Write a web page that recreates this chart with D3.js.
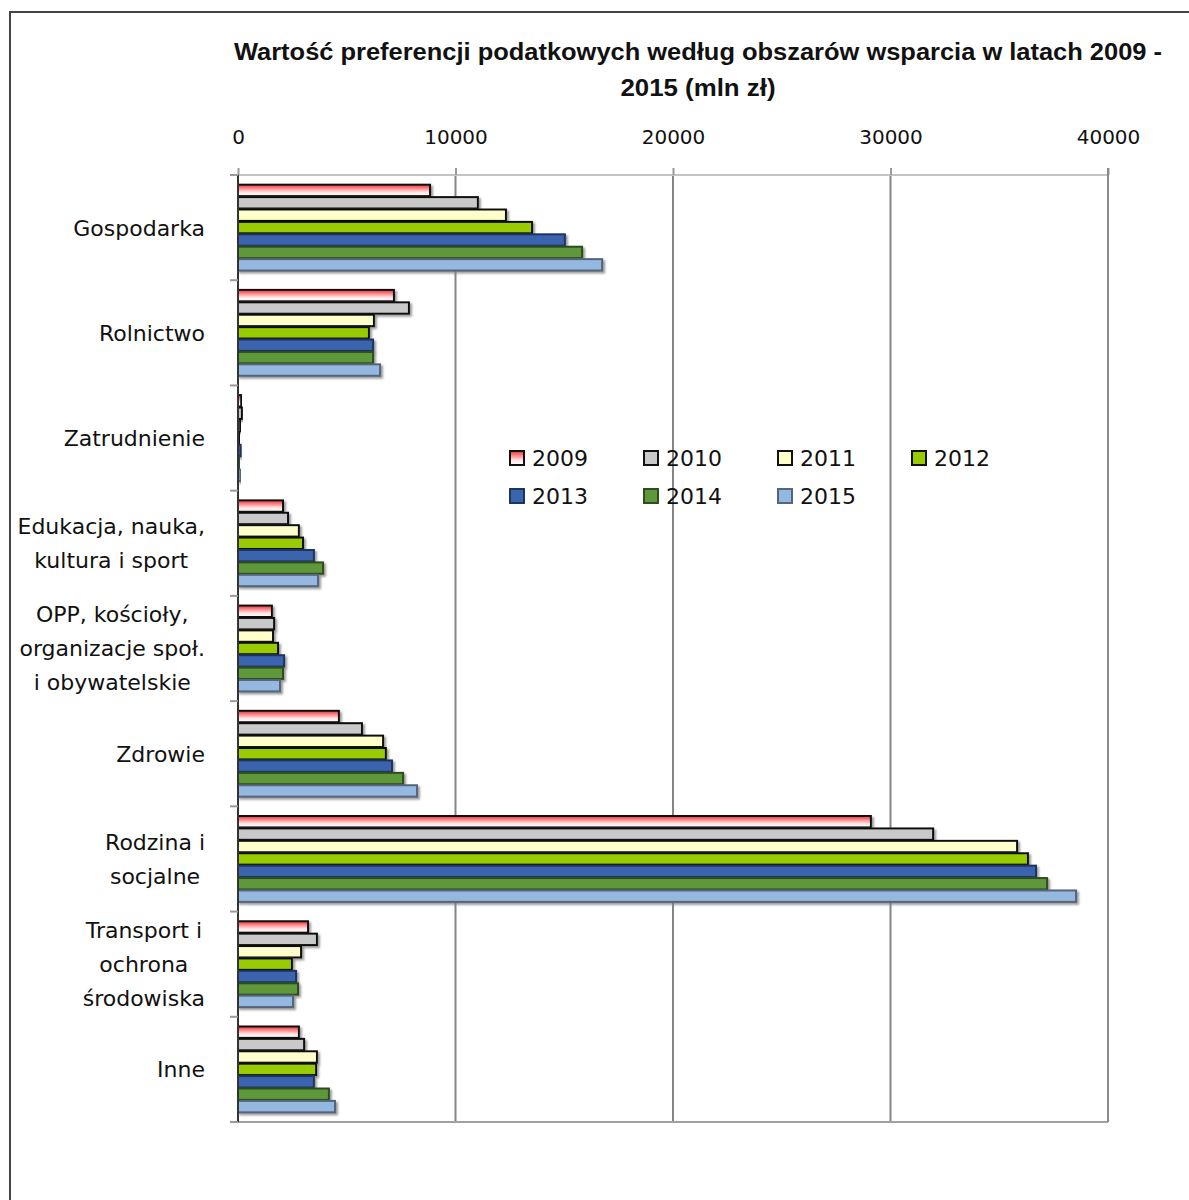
<!DOCTYPE html>
<html>
<head>
<meta charset="utf-8">
<script src="https://cdn.jsdelivr.net/npm/d3@7"></script>
<style>
  html, body { margin: 0; padding: 0; background: #fff; }
  svg { display: block; }
</style>
</head>
<body>
<svg id="chart" width="1189" height="1200"></svg>
<script>
// Obszary wsparcia (kategorie), od góry do dołu
const categories = [
  ["Gospodarka"],
  ["Rolnictwo"],
  ["Zatrudnienie"],
  ["Edukacja, nauka,", "kultura i sport"],
  ["OPP, kościoły,", "organizacje społ.", "i obywatelskie"],
  ["Zdrowie"],
  ["Rodzina i", "socjalne"],
  ["Transport i", "ochrona", "środowiska"],
  ["Inne"]
];
const categoryKeys = categories.map(c => c.join(" "));

const years = ["2009", "2010", "2011", "2012", "2013", "2014", "2015"];

// Wartość preferencji podatkowych (mln zł), w kolejności kategorii
const v2009 = [8830, 7170, 150, 2070, 1560, 4640, 29100, 3220, 2800];
const v2010 = [11030, 7860, 180, 2300, 1660, 5700, 31960, 3630, 3040];
const v2011 = [12320, 6250, 100, 2800, 1610, 6670, 35820, 2900, 3630];
const v2012 = [13520, 6020, 60, 2990, 1840, 6800, 36320, 2480, 3590];
const v2013 = [15030, 6210, 120, 3490, 2120, 7080, 36690, 2670, 3490];
const v2014 = [15820, 6210, 70, 3910, 2070, 7590, 37200, 2760, 4180];
const v2015 = [16740, 6530, 110, 3680, 1930, 8230, 38530, 2530, 4460];
const seriesValues = [v2009, v2010, v2011, v2012, v2013, v2014, v2015];

const xTicks = [0, 10000, 20000, 30000, 40000];

const titleLines = [
  "Wartość preferencji podatkowych według obszarów wsparcia w latach 2009 -",
  "2015 (mln zł)"
];

// Wypełnienia i obramowania serii
const fills = ["url(#grad2009)", "#c9c9c9", "#ffffcc", "#99cc00", "#3a64ae", "#5f973a", "#95b8e1"];
const strokes = ["#111", "#111", "#111", "#111", "#1d3561", "#2f4d1d", "#55657c"];

const svg = d3.select("#chart");
const W = 1189, H = 1200;

const defs = svg.append("defs");
const g09 = defs.append("linearGradient").attr("id", "grad2009")
  .attr("x1", 0).attr("y1", 0).attr("x2", 0).attr("y2", 1);
g09.append("stop").attr("offset", "0%").attr("stop-color", "#e8333a");
g09.append("stop").attr("offset", "35%").attr("stop-color", "#ff8d90");
g09.append("stop").attr("offset", "65%").attr("stop-color", "#ffe4e4");
g09.append("stop").attr("offset", "100%").attr("stop-color", "#ffffff");

const shadow = defs.append("filter").attr("id", "shadow")
  .attr("x", "-10%").attr("y", "-40%").attr("width", "130%").attr("height", "200%");
shadow.append("feDropShadow").attr("dx", 2).attr("dy", 2).attr("stdDeviation", 1)
  .attr("flood-color", "#7a7a7a").attr("flood-opacity", 0.75);

// Ramka wykresu
svg.append("rect").attr("x", 10).attr("y", 12).attr("width", W + 20).attr("height", H + 20)
  .attr("fill", "#fff").attr("stroke", "#444").attr("stroke-width", 2);

// Tytuł
const title = svg.append("g");
titleLines.forEach((t, i) => {
  const el = title.append("text")
    .attr("x", 698).attr("y", 60 + i * 36)
    .attr("text-anchor", "middle")
    .attr("font-family", "Liberation Sans, Arial, sans-serif")
    .attr("font-weight", "bold")
    .attr("font-size", 23)
    .attr("fill", "#111")
    .text(t);
  if (i === 0) el.attr("textLength", 928).attr("lengthAdjust", "spacingAndGlyphs");
  else el.attr("textLength", 155).attr("lengthAdjust", "spacingAndGlyphs");
});

// Obszar wykresu
const plot = { left: 238, right: 1108, top: 175, bottom: 1122 };

const x = d3.scaleLinear().domain([0, 40000]).range([plot.left, plot.right]);
const y = d3.scaleBand().domain(categoryKeys).range([plot.top, plot.bottom]).padding(0);
const yInner = d3.scaleBand().domain(years).range([0, y.bandwidth()]).paddingInner(0).paddingOuter(0.74);

// Linie siatki
svg.append("g").selectAll("line").data(xTicks.slice(1))
  .join("line")
  .attr("x1", d => x(d)).attr("x2", d => x(d))
  .attr("y1", plot.top).attr("y2", plot.bottom)
  .attr("stroke", "#858585").attr("stroke-width", 2);

// Krawędzie obszaru wykresu
svg.append("line").attr("x1", plot.left).attr("x2", plot.right).attr("y1", plot.top).attr("y2", plot.top)
  .attr("stroke", "#c4c4c4").attr("stroke-width", 2);
svg.append("line").attr("x1", plot.left).attr("x2", plot.right).attr("y1", plot.bottom).attr("y2", plot.bottom)
  .attr("stroke", "#a0a0a0").attr("stroke-width", 2);

// Oś wartości (u góry)
const xAxis = svg.append("g")
  .attr("transform", `translate(0,${plot.top})`)
  .call(d3.axisTop(x).tickValues(xTicks).tickFormat(d3.format("d")).tickSize(7).tickPadding(24));
xAxis.select(".domain").remove();
xAxis.selectAll(".tick line").attr("stroke", "#9a9a9a").attr("stroke-width", 2);
xAxis.selectAll(".tick text")
  .attr("font-family", "DejaVu Sans, sans-serif").attr("font-size", 20).attr("fill", "#111");

// Słupki
const groups = svg.append("g").selectAll("g").data(categoryKeys)
  .join("g")
  .attr("transform", d => `translate(0,${y(d)})`);

groups.each(function(cat, ci) {
  d3.select(this).selectAll("rect").data(years.map((yr, si) => ({ yr, si, v: seriesValues[si][ci] })))
    .join("rect")
    .attr("x", x(0))
    .attr("y", d => yInner(d.yr) + 0.5)
    .attr("width", d => Math.max(0, x(d.v) - x(0)))
    .attr("height", yInner.bandwidth() - 1)
    .attr("fill", d => fills[d.si])
    .attr("stroke", d => strokes[d.si])
    .attr("stroke-width", 2)
    .attr("filter", "url(#shadow)");
});

// Oś kategorii
svg.append("line").attr("x1", plot.left).attr("x2", plot.left)
  .attr("y1", plot.top).attr("y2", plot.bottom)
  .attr("stroke", "#333").attr("stroke-width", 2);
const boundaries = categoryKeys.map(k => y(k)).concat([plot.bottom]);
svg.append("g").selectAll("line").data(boundaries)
  .join("line")
  .attr("x1", plot.left - 8).attr("x2", plot.left)
  .attr("y1", d => d).attr("y2", d => d)
  .attr("stroke", "#9a9a9a").attr("stroke-width", 2);

// Prawa krawędź
svg.append("line").attr("x1", plot.right).attr("x2", plot.right).attr("y1", plot.top - 7).attr("y2", plot.bottom)
  .attr("stroke", "#8a8a8a").attr("stroke-width", 2);

// Etykiety kategorii (wyśrodkowane wiersze, blok wyrównany do prawej)
const labelRight = 205, lineH = 34;
const labels = svg.append("g").attr("font-family", "DejaVu Sans, sans-serif")
  .attr("font-size", 22).attr("fill", "#111");
categories.forEach((lines, ci) => {
  const cy = y(categoryKeys[ci]) + y.bandwidth() / 2;
  const grp = labels.append("g");
  const texts = lines.map((ln, li) => grp.append("text")
    .attr("y", cy + (li - (lines.length - 1) / 2) * lineH)
    .attr("dy", "0.36em")
    .attr("text-anchor", "middle")
    .text(ln));
  const maxW = d3.max(texts, t => t.node().getComputedTextLength());
  texts.forEach(t => t.attr("x", labelRight - maxW / 2));
});

// Legenda
const legend = svg.append("g").attr("font-family", "DejaVu Sans, sans-serif")
  .attr("font-size", 22).attr("fill", "#111");
years.forEach((yr, si) => {
  const col = si % 4, row = Math.floor(si / 4);
  const lx = 510 + col * 134, ly = 458 + row * 38;
  legend.append("rect").attr("x", lx).attr("y", ly - 7).attr("width", 14).attr("height", 14)
    .attr("fill", fills[si]).attr("stroke", strokes[si]).attr("stroke-width", 2);
  legend.append("text").attr("x", lx + 22).attr("y", ly).attr("dy", "0.36em").text(yr);
});
</script>
</body>
</html>
